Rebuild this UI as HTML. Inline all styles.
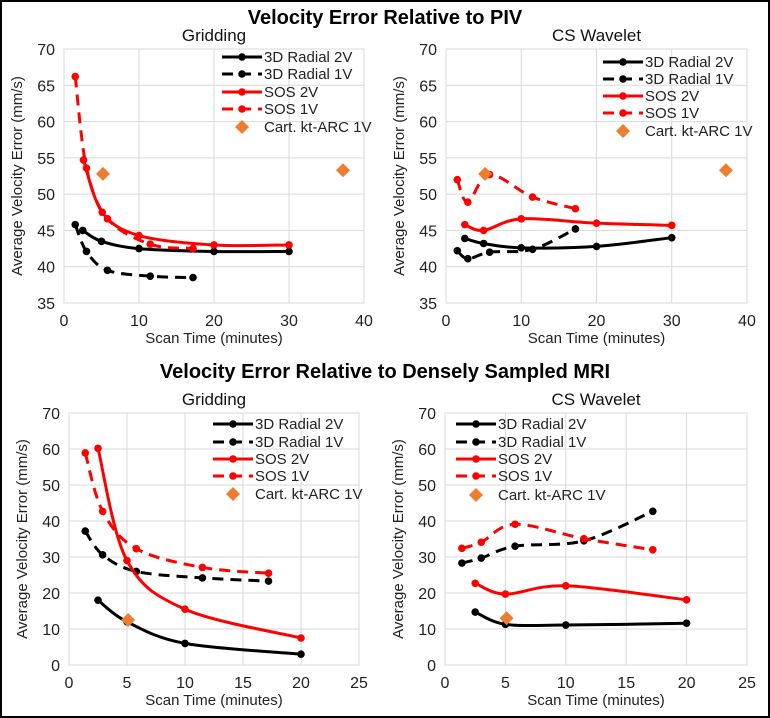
<!DOCTYPE html>
<html><head><meta charset="utf-8"><style>
html,body{margin:0;padding:0;background:#fff}
svg{display:block;font-family:"Liberation Sans",sans-serif}
</style></head><body>
<svg id="s" width="770" height="718" viewBox="0 0 770 718">
<rect x="1" y="1" width="768" height="716" fill="#fff" stroke="#000" stroke-width="2"/>
<text x="385" y="24" text-anchor="middle" font-size="20" font-weight="bold">Velocity Error Relative to PIV</text>
<text x="385" y="378" text-anchor="middle" font-size="20" font-weight="bold">Velocity Error Relative to Densely Sampled MRI</text>
</svg>
<script>
// ---- data ----
const seriesNames = ["3D Radial 2V","3D Radial 1V","SOS 2V","SOS 1V","Cart. kt-ARC 1V"];
const pivGridR2V_x=[2.5,5,10,20,30], pivGridR2V_y=[45,43.5,42.5,42.1,42.1];
const pivGridR1V_x=[1.5,3,5.8,11.5,17.2], pivGridR1V_y=[45.8,42.1,39.5,38.7,38.5];
const pivGridS2V_x=[2.6,5.1,10,20,30], pivGridS2V_y=[54.7,47.5,44.3,43,43];
const pivGridS1V_x=[1.5,3,5.8,11.5,17.2], pivGridS1V_y=[66.2,53.6,46.6,43.1,42.5];
const pivCart_x=[5.2,37.2], pivCart_y=[52.8,53.3];
const pivCsR2V_x=[2.5,5,10,20,30], pivCsR2V_y=[43.9,43.2,42.6,42.8,44];
const pivCsR1V_x=[1.5,2.9,5.8,11.5,17.2], pivCsR1V_y=[42.2,41.1,42,42.4,45.2];
const pivCsS2V_x=[2.5,5,10,20,30], pivCsS2V_y=[45.8,45,46.6,46,45.7];
const pivCsS1V_x=[1.5,2.9,5.8,11.5,17.2], pivCsS1V_y=[52,48.9,52.7,49.6,48];
const mriGridR2V_x=[2.5,5,10,20], mriGridR2V_y=[18,12,6,3];
const mriGridR1V_x=[1.4,2.9,5.8,11.5,17.2], mriGridR1V_y=[37.2,30.6,26,24.2,23.3];
const mriGridS2V_x=[2.5,5,10,20], mriGridS2V_y=[60.2,29,15.5,7.5];
const mriGridS1V_x=[1.4,2.9,5.8,11.5,17.2], mriGridS1V_y=[58.9,42.7,32.3,27.1,25.5];
const mriGridCart_x=[5.1], mriGridCart_y=[12.5];
const mriCsR2V_x=[2.5,5,10,20], mriCsR2V_y=[14.7,11.3,11.1,11.6];
const mriCsR1V_x=[1.4,3,5.8,11.5,17.2], mriCsR1V_y=[28.3,29.7,33,34.5,42.7];
const mriCsS2V_x=[2.5,5,10,20], mriCsS2V_y=[22.7,19.7,22,18.1];
const mriCsS1V_x=[1.4,3,5.8,11.5,17.2], mriCsS1V_y=[32.4,34.1,39.1,35.1,32];
const mriCsCart_x=[5.1], mriCsCart_y=[13];
const pivXTicks=[0,10,20,30,40], pivYTicks=[35,40,45,50,55,60,65,70];
const mriXTicks=[0,5,10,15,20,25], mriYTicks=[0,10,20,30,40,50,60,70];

const NS="http://www.w3.org/2000/svg", S=document.getElementById('s');
function mk(tag,attrs,parent){const e=document.createElementNS(NS,tag);for(const k in attrs)e.setAttribute(k,attrs[k]);(parent||S).appendChild(e);return e;}
function spline(p){let d=`M${p[0][0]},${p[0][1]}`;for(let i=0;i<p.length-1;i++){const p0=p[Math.max(0,i-1)],p1=p[i],p2=p[i+1],p3=p[Math.min(p.length-1,i+2)];
const t=0.5/3;d+=` C${p1[0]+(p2[0]-p0[0])*t},${p1[1]+(p2[1]-p0[1])*t} ${p2[0]-(p3[0]-p1[0])*t},${p2[1]-(p3[1]-p1[1])*t} ${p2[0]},${p2[1]}`;}return d;}
const styles=[{c:"#000",dash:null},{c:"#000",dash:"11,7"},{c:"#f00",dash:null},{c:"#f00",dash:"11,7"}];

function panel(o){
  const g=mk('g',{});
  
  
  const X=v=>o.x0+(v-o.xt[0])/(o.xt[o.xt.length-1]-o.xt[0])*(o.x1-o.x0);
  const Y=v=>o.y1-(v-o.yt[0])/(o.yt[o.yt.length-1]-o.yt[0])*(o.y1-o.y0);
  o.xt.forEach(t=>{if(t!==o.xt[0])mk('line',{x1:X(t),x2:X(t),y1:o.y0,y2:o.y1,stroke:'#d9d9d9'},g);
    const tl=mk('text',{x:X(t),y:o.y1+23,'text-anchor':'middle','font-size':16,fill:'#222'},g);tl.textContent=t;
    });
  o.yt.forEach(t=>{mk('line',{x1:o.x0,x2:o.x1,y1:Y(t),y2:Y(t),stroke:'#d9d9d9'},g);
    const tl=mk('text',{x:o.x0-9,y:Y(t)+6,'text-anchor':'end','font-size':16,fill:'#222'},g);tl.textContent=t;
    });
  mk('rect',{x:o.x0,y:o.y0,width:o.x1-o.x0,height:o.y1-o.y0,fill:'none',stroke:'#d9d9d9'},g);
  const st=mk('text',{x:(o.x0+o.x1)/2,y:o.y0-8,'text-anchor':'middle','font-size':17,fill:'#111'},g);st.textContent=o.title;
  
  const xt=mk('text',{x:(o.x0+o.x1)/2,y:o.y1+40,'text-anchor':'middle','font-size':15,fill:'#222'},g);xt.textContent="Scan Time (minutes)";
  
  const cy=(o.y0+o.y1)/2, yx=o.x0-42;
  const yt=mk('text',{x:yx,y:cy,'text-anchor':'middle','font-size':15,fill:'#222',transform:`rotate(-90 ${yx} ${cy})`},g);yt.textContent="Average Velocity Error (mm/s)";
  
  o.series.forEach((s,i)=>{const pts=s[0].map((x,j)=>[X(x),Y(s[1][j])]);
    const p=mk('path',{d:spline(pts),fill:'none',stroke:styles[i].c,'stroke-width':3},g);if(styles[i].dash)p.setAttribute('stroke-dasharray',styles[i].dash);
    
    pts.forEach(q=>{const c=mk('circle',{cx:q[0],cy:q[1],r:3.8,fill:styles[i].c},g);
      });});
  o.cart[0].forEach((x,j)=>{const cx=X(x),cy2=Y(o.cart[1][j]);
    const d=mk('path',{d:`M${cx},${cy2-7} L${cx+7},${cy2} L${cx},${cy2+7} L${cx-7},${cy2} Z`,fill:'#ed7d31'},g);
    });
  o.leg.ys.forEach((y,i)=>{
    if(i<4){const l=mk('line',{x1:o.leg.lx,x2:o.leg.lx+40,y1:y,y2:y,stroke:styles[i].c,'stroke-width':3},g);
      if(styles[i].dash)l.setAttribute('stroke-dasharray',"11,7");
      mk('circle',{cx:o.leg.lx+20,cy:y,r:3.8,fill:styles[i].c},g);}
    else{mk('path',{d:`M${o.leg.lx+20},${y-7} L${o.leg.lx+27},${y} L${o.leg.lx+20},${y+7} L${o.leg.lx+13},${y} Z`,fill:'#ed7d31'},g);}
    const t=mk('text',{x:o.leg.lx+42,y:y+5,'font-size':15,fill:'#222'},g);t.textContent=seriesNames[i];
    });
}
panel({name:'piv-gridding-chart',title:'Gridding',x0:64,x1:364,y0:49,y1:303,xt:pivXTicks,yt:pivYTicks,
 series:[[pivGridR2V_x,pivGridR2V_y],[pivGridR1V_x,pivGridR1V_y],[pivGridS2V_x,pivGridS2V_y],[pivGridS1V_x,pivGridS1V_y]],
 cart:[pivCart_x,pivCart_y],leg:{lx:222,ys:[57,74,92,109,127]}});
panel({name:'piv-cs-wavelet-chart',title:'CS Wavelet',x0:446,x1:747,y0:49,y1:303,xt:pivXTicks,yt:pivYTicks,
 series:[[pivCsR2V_x,pivCsR2V_y],[pivCsR1V_x,pivCsR1V_y],[pivCsS2V_x,pivCsS2V_y],[pivCsS1V_x,pivCsS1V_y]],
 cart:[pivCart_x,pivCart_y],leg:{lx:603,ys:[62,79,96,113,131]}});
panel({name:'mri-gridding-chart',title:'Gridding',x0:69,x1:359,y0:413,y1:665,xt:mriXTicks,yt:mriYTicks,
 series:[[mriGridR2V_x,mriGridR2V_y],[mriGridR1V_x,mriGridR1V_y],[mriGridS2V_x,mriGridS2V_y],[mriGridS1V_x,mriGridS1V_y]],
 cart:[mriGridCart_x,mriGridCart_y],leg:{lx:213,ys:[424,442,459,476,494]}});
panel({name:'mri-cs-wavelet-chart',title:'CS Wavelet',x0:445,x1:747,y0:413,y1:665,xt:mriXTicks,yt:mriYTicks,
 series:[[mriCsR2V_x,mriCsR2V_y],[mriCsR1V_x,mriCsR1V_y],[mriCsS2V_x,mriCsS2V_y],[mriCsS1V_x,mriCsS1V_y]],
 cart:[mriCsCart_x,mriCsCart_y],leg:{lx:456,ys:[424,442,459,476,495]}});
</script>
</body></html>
